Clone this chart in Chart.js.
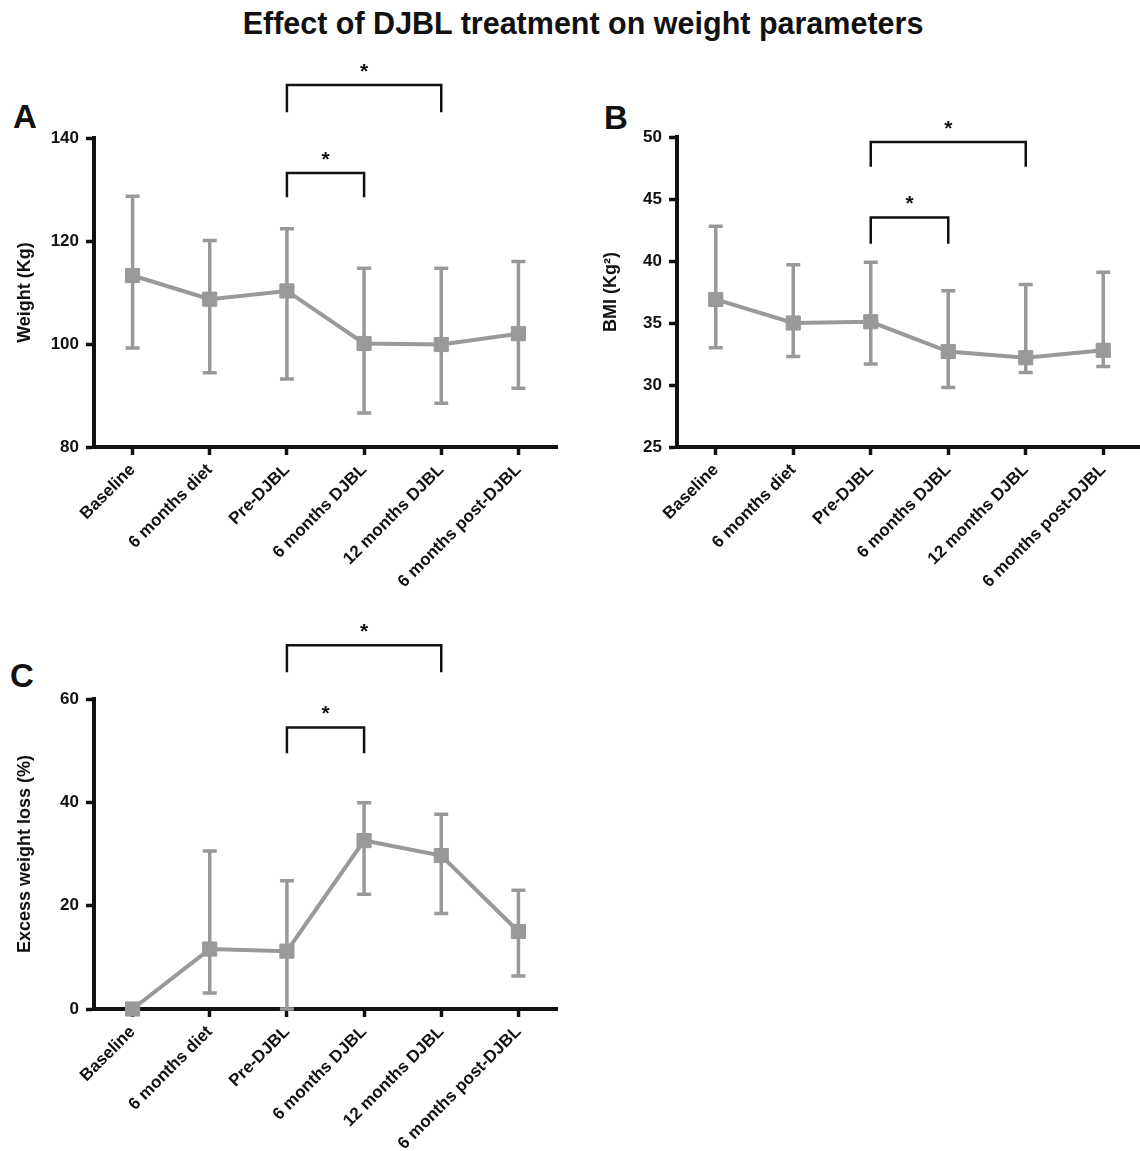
<!DOCTYPE html>
<html>
<head>
<meta charset="utf-8">
<script src="https://cdn.jsdelivr.net/npm/chart.js@4.4.0/dist/chart.umd.min.js"></script>
<style>
  body { margin: 0; background: #fff; font-family: 'Liberation Sans', Arial, sans-serif; }
  #page { position: relative; width: 1140px; height: 1151px; overflow: hidden; }
  .box { position: absolute; }
  .title { position: absolute; left: 13px; width: 1140px; top: 8px; line-height: 30px; text-align: center; font-weight: bold; font-size: 30.5px; color: #111; }
  .letter { position: absolute; font-weight: bold; font-size: 33px; line-height: 33px; color: #111; }
</style>
</head>
<body>
<div id="page">
  <div class="title">Effect of DJBL treatment on weight parameters</div>
  <div class="letter" style="left:13px;top:100px;">A</div>
  <div class="letter" style="left:604px;top:101px;">B</div>
  <div class="letter" style="left:10px;top:659px;">C</div>
  <div class="box" style="left:0;top:60px;width:570px;height:560px;"><canvas id="chartA"></canvas></div>
  <div class="box" style="left:580px;top:60px;width:573px;height:560px;"><canvas id="chartB"></canvas></div>
  <div class="box" style="left:0;top:600px;width:570px;height:551px;"><canvas id="chartC"></canvas></div>
</div>
<script>
// categorias
const timepoints = ['Baseline', '6 months diet', 'Pre-DJBL', '6 months DJBL', '12 months DJBL', '6 months post-DJBL'];

// A - peso
const weightMean = [113.3, 108.7, 110.3, 100.1, 99.9, 102.0];
const weightLow  = [99.2, 94.4, 93.2, 86.6, 88.5, 91.4];
const weightHigh = [128.7, 120.1, 122.4, 114.7, 114.7, 116.0];
const weightTicks = [80, 100, 120, 140];
// [desde, hasta, altura, patas]
const weightBrackets = [[2, 3, 133.2, 128.5], [2, 4, 150.3, 145.0]];

// B - IMC
const bmiMean = [36.9, 35.0, 35.1, 32.7, 32.2, 32.8];
const bmiLow  = [33.0, 32.3, 31.7, 29.8, 31.0, 31.5];
const bmiHigh = [42.8, 39.7, 39.9, 37.6, 38.1, 39.1];
const bmiTicks = [25, 30, 35, 40, 45, 50];
const bmiBrackets = [[2, 3, 43.5, 41.4], [2, 4, 49.6, 47.6]];

// C - % exceso de peso perdido
const ewlMean = [0, 11.6, 11.2, 32.6, 29.7, 15.0];
const ewlLow  = [0, 3.1, 0, 22.2, 18.5, 6.4];
const ewlHigh = [0, 30.6, 24.8, 39.9, 37.7, 23.0];
const ewlTicks = [0, 20, 40, 60];
const ewlBrackets = [[2, 3, 54.5, 49.5], [2, 4, 70.4, 65.2]];

const GREY = 'rgb(153,153,153)';
const FONT = "'Liberation Sans', Arial, sans-serif";

function makeChart(id, mean, low, high, ticks, brackets, yTitle, cfg) {
  // barras de error (debajo de la línea)
  const errorBars = {
    id: 'errorBars',
    beforeDatasetsDraw(chart) {
      const ctx = chart.ctx, x = chart.scales.x, y = chart.scales.y;
      ctx.save();
      ctx.strokeStyle = GREY;
      ctx.lineWidth = 3.5;
      for (let i = 0; i < mean.length; i++) {
        if (low[i] === high[i]) continue;
        const px = x.getPixelForValue(i);
        const y1 = y.getPixelForValue(low[i]);
        const y2 = y.getPixelForValue(high[i]);
        ctx.beginPath();
        ctx.moveTo(px, y1); ctx.lineTo(px, y2);
        ctx.moveTo(px - 7, y1); ctx.lineTo(px + 7, y1);
        ctx.moveTo(px - 7, y2); ctx.lineTo(px + 7, y2);
        ctx.stroke();
      }
      ctx.restore();
    }
  };
  // corchetes de significancia
  const sigBrackets = {
    id: 'sigBrackets',
    afterDraw(chart) {
      const ctx = chart.ctx, x = chart.scales.x, y = chart.scales.y;
      ctx.save();
      ctx.strokeStyle = '#111';
      ctx.lineWidth = 2.5;
      ctx.fillStyle = '#111';
      ctx.font = 'bold 21px ' + FONT;
      ctx.textAlign = 'center';
      ctx.textBaseline = 'middle';
      brackets.forEach(b => {
        const xa = x.getPixelForValue(b[0]);
        const xb = x.getPixelForValue(b[1]);
        const top = y.getPixelForValue(b[2]);
        const leg = y.getPixelForValue(b[3]);
        ctx.beginPath();
        ctx.moveTo(xa, leg); ctx.lineTo(xa, top); ctx.lineTo(xb, top); ctx.lineTo(xb, leg);
        ctx.stroke();
        ctx.fillText('*', (xa + xb) / 2, top - 13);
      });
      ctx.restore();
    }
  };

  return new Chart(document.getElementById(id), {
    type: 'line',
    data: {
      labels: timepoints,
      datasets: [{
        data: mean,
        borderColor: GREY,
        backgroundColor: GREY,
        borderWidth: 4,
        pointStyle: 'rect',
        pointRadius: 10,
        pointBorderWidth: 1,
        tension: 0,
        clip: false
      }]
    },
    options: {
      responsive: true,
      maintainAspectRatio: false,
      animation: false,
      layout: { padding: { top: cfg.padTop, right: cfg.padRight, left: 0, bottom: 0 } },
      plugins: { legend: { display: false }, tooltip: { enabled: false } },
      scales: {
        x: {
          offset: true,
          grid: { display: true, drawOnChartArea: false, drawTicks: true, tickLength: 8, tickWidth: 3.5, tickColor: '#111', offset: false },
          border: { display: true, color: '#111', width: 4 },
          ticks: { color: '#111', font: { family: FONT, size: 17, weight: 'bold' }, maxRotation: 45, minRotation: 45, padding: 5, autoSkip: false },
          afterFit(s) { s.height = cfg.xHeight; }
        },
        y: {
          min: ticks[0],
          max: ticks[ticks.length - 1],
          afterBuildTicks(s) { s.ticks = ticks.map(v => ({ value: v })); },
          grid: { display: true, drawOnChartArea: false, drawTicks: true, tickLength: 8, tickWidth: 3.5, tickColor: '#111' },
          border: { display: true, color: '#111', width: 4 },
          ticks: { color: '#111', font: { family: FONT, size: 17, weight: 'bold' }, padding: 7 },
          title: { display: true, text: yTitle, color: '#111', font: { family: FONT, size: 18, weight: 'bold' }, padding: { top: cfg.titlePad, bottom: 0 } },
          afterFit(s) { s.width = cfg.yWidth; }
        }
      }
    },
    plugins: [errorBars, sigBrackets]
  });
}

makeChart('chartA', weightMean, weightLow, weightHigh, weightTicks, weightBrackets, 'Weight (Kg)',
  { padTop: 78, padRight: 13, xHeight: 173, yWidth: 94, titlePad: 14 });
makeChart('chartB', bmiMean, bmiLow, bmiHigh, bmiTicks, bmiBrackets, 'BMI (Kg\u00B2)',
  { padTop: 77, padRight: 0, xHeight: 173, yWidth: 97, titlePad: 20 });
makeChart('chartC', ewlMean, ewlLow, ewlHigh, ewlTicks, ewlBrackets, 'Excess weight loss (%)',
  { padTop: 99, padRight: 13, xHeight: 142, yWidth: 94, titlePad: 14 });
</script>
</body>
</html>
